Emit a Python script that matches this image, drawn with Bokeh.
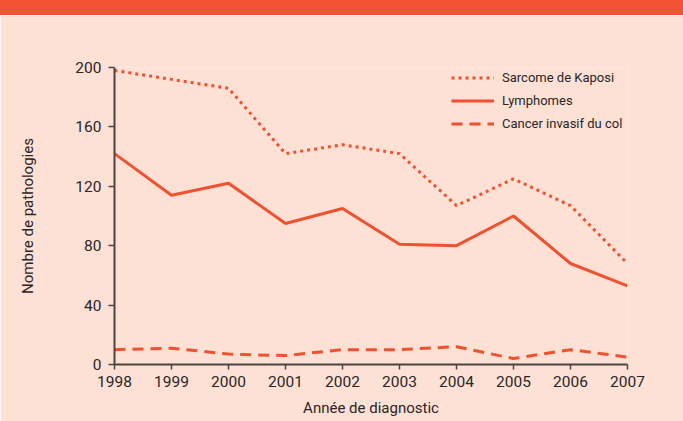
from bokeh.plotting import figure
from bokeh.models import Legend, LegendItem, Div, Range1d, FixedTicker
from bokeh.layouts import column
from bokeh.embed import file_html
from bokeh.resources import INLINE

years = [1998, 1999, 2000, 2001, 2002, 2003, 2004, 2005, 2006, 2007]
kaposi = [198, 192, 186, 142, 148, 142, 107, 125, 107, 68]
lymphomes = [142, 114, 122, 95, 105, 81, 80, 100, 68, 53]
col = [10, 11, 7, 6, 10, 10, 12, 4, 10, 5]
y_ticks = [0, 40, 80, 120, 160, 200]
series_names = ["Sarcome de Kaposi", "Lymphomes", "Cancer invasif du col"]
x_title = "Année de diagnostic"
y_title = "Nombre de pathologies"

BG = "#FDE1D5"
RED = "#F0512F"
BAND = "#F05233"
TXT = "#2a2526"
FONT = "Roboto"

band = Div(text="", width=683, height=15, margin=0,
           styles={"background-color": BAND})

p = figure(width=683, height=406, output_backend="svg", toolbar_location=None,
           x_range=Range1d(1998, 2007), y_range=Range1d(0, 200),
           min_border_left=114, min_border_right=56, min_border_top=52,
           min_border_bottom=57, background_fill_color=BG, border_fill_color=BG,
           outline_line_color=None)
p.grid.visible = False

r1 = p.line(years, kaposi, line_color=RED, line_width=3, line_dash="3 4")
r2 = p.line(years, lymphomes, line_color=RED, line_width=3)
r3 = p.line(years, col, line_color=RED, line_width=3, line_dash="11 7")

p.xaxis.ticker = FixedTicker(ticks=years)
p.yaxis.ticker = FixedTicker(ticks=y_ticks)
for ax in (p.xaxis, p.yaxis):
    ax.axis_line_color = "#4a4444"
    ax.axis_line_width = 2
    ax.major_tick_line_color = "#4a4444"
    ax.major_tick_line_width = 1.5
    ax.minor_tick_line_color = None
    ax.major_tick_in = 0
    ax.major_label_text_font = FONT
    ax.major_label_text_font_size = "15.5px"
    ax.major_label_text_color = TXT
    ax.axis_label_text_font = FONT
    ax.axis_label_text_font_size = "15px"
    ax.axis_label_text_font_style = "normal"
    ax.axis_label_text_color = TXT
p.xaxis.major_tick_out = 5
p.yaxis.major_tick_out = 6
p.xaxis.major_label_standoff = 6
p.yaxis.major_label_standoff = 7

p.yaxis.axis_label = y_title
p.yaxis.axis_label_standoff = 35
p.xaxis.axis_label = x_title
p.xaxis.axis_label_standoff = 9

legend = Legend(items=[LegendItem(label=series_names[0], renderers=[r1]),
                       LegendItem(label=series_names[1], renderers=[r2]),
                       LegendItem(label=series_names[2], renderers=[r3])],
                location=(337, 229), glyph_width=43, glyph_height=23,
                label_height=23, spacing=0, padding=0, margin=0,
                label_standoff=8, label_text_font=FONT,
                label_text_font_size="13px", label_text_color=TXT,
                border_line_color=None, background_fill_alpha=0)
p.add_layout(legend)

layout = column(band, p, spacing=0)
open("out.html", "w").write(file_html(layout, INLINE))
